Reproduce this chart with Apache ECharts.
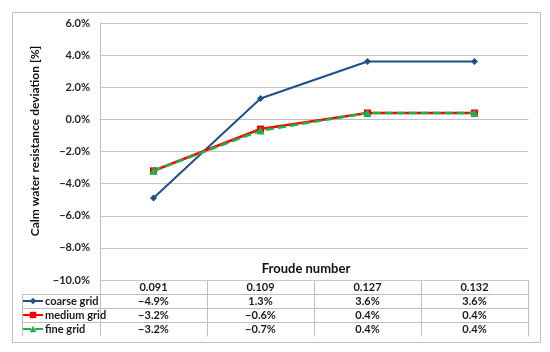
<!DOCTYPE html>
<html><head><meta charset="utf-8">
<script src="https://cdn.jsdelivr.net/npm/echarts@6/dist/echarts.min.js"></script>
<style>html,body{margin:0;padding:0;background:#fff}#c{width:550px;height:352px}</style>
</head><body><div id="c"></div>
<script>
const categories = ['0.091', '0.109', '0.127', '0.132'];
const seriesNames = ['coarse grid', 'medium grid', 'fine grid'];
const coarse = [-4.9, 1.3, 3.6, 3.6];
const medium = [-3.2, -0.6, 0.4, 0.4];
const fine = [-3.2, -0.7, 0.4, 0.4];
const yMin = -10, yMax = 6, yStep = 2;
const xTitle = 'Froude number';
const yTitle = 'Calm water resistance deviation [%]';

const FONT = 'Lato, "Liberation Sans", sans-serif';
const fmt = v => (v < 0 ? '\u2212' : '') + Math.abs(v).toFixed(1) + '%';

const chart = echarts.init(document.getElementById('c'), null, {renderer: 'canvas'});
const G = {left: 100, right: 22, top: 23, bottom: 72};
const colors = ['#1F4E8A', '#FF0000', '#1DB14B'];
const rowTop = 294, rowH = 14;

function legendFor(i) {
  return {
    data: [seriesNames[i]], left: 22, top: rowTop + i * rowH, padding: 0,
    itemWidth: 20, itemHeight: 8, selectedMode: false,
    textStyle: {fontFamily: FONT, fontWeight: 'bold', fontSize: 11, color: '#1a1a1a', lineHeight: 14, padding: [0, 0, 0, -3]}
  };
}

chart.setOption({
  animation: false,
  textStyle: {fontFamily: FONT},
  grid: G,
  legend: [legendFor(0), legendFor(1), legendFor(2)],
  xAxis: {
    type: 'category', data: categories, boundaryGap: true,
    axisLine: {show: true, lineStyle: {color: '#BFBFBF', width: 1}},
    axisTick: {show: false}, axisLabel: {show: false}, splitLine: {show: false}
  },
  yAxis: {
    type: 'value', min: yMin, max: yMax, interval: yStep,
    axisLine: {show: true, lineStyle: {color: '#BFBFBF', width: 1}},
    axisTick: {show: false},
    axisLabel: {formatter: fmt, fontFamily: FONT, fontWeight: 'bold', fontSize: 11, color: '#262626', margin: 10},
    splitLine: {show: true, lineStyle: {color: '#C8C8C8', width: 1}}
  },
  series: [
    {name: seriesNames[0], type: 'line', data: coarse, color: colors[0], symbol: 'diamond', symbolSize: 7,
     lineStyle: {width: 2}, z: 2},
    {name: seriesNames[1], type: 'line', data: medium, color: colors[1], symbol: 'rect', symbolSize: 7,
     lineStyle: {width: 2.5}, z: 3},
    {name: seriesNames[2], type: 'line', data: fine, color: colors[2], symbol: 'triangle', symbolSize: 8,
     lineStyle: {width: 2.5, type: [8, 4]}, z: 4}
  ]
});

// Data table and titles built from the arrays
const W = chart.getWidth(), H = chart.getHeight();
const gl = G.left, gr = W - G.right, gb = H - G.bottom;
const band = (gr - gl) / categories.length;
const gfx = [];
const lineStyle = {stroke: '#BFBFBF', lineWidth: 1};
const P = v => Math.round(v) + 0.5;
gfx.push({type: 'rect', shape: {x: 12.5, y: 12.5, width: 528, height: 330}, style: {fill: 'none', stroke: '#BFBFBF', lineWidth: 1}, z: 0});
for (let r = 1; r <= seriesNames.length; r++) {
  const y = P(gb + r * rowH);
  gfx.push({type: 'line', shape: {x1: 22, y1: y, x2: gr, y2: y}, style: lineStyle});
}
gfx.push({type: 'line', shape: {x1: P(22), y1: P(gb + rowH), x2: P(22), y2: P(gb + 4 * rowH)}, style: lineStyle});
for (let c = 0; c <= categories.length; c++) {
  const x = P(gl + c * band);
  gfx.push({type: 'line', shape: {x1: x, y1: gb, x2: x, y2: P(gb + 4 * rowH)}, style: lineStyle});
}
const allData = [coarse, medium, fine];
categories.forEach((cat, i) => {
  const cx = chart.convertToPixel({xAxisIndex: 0}, cat);
  gfx.push({type: 'text', style: {text: cat, x: cx, y: gb + rowH / 2 + 0.5, align: 'center', verticalAlign: 'middle',
    font: 'bold 11px ' + FONT, fill: '#1a1a1a'}});
  allData.forEach((arr, r) => {
    gfx.push({type: 'text', style: {text: fmt(arr[i]), x: cx, y: gb + (r + 1.5) * rowH + 0.5, align: 'center', verticalAlign: 'middle',
      font: 'bold 11px ' + FONT, fill: '#1a1a1a'}});
  });
});
gfx.push({type: 'text', style: {text: xTitle, x: 306, y: 269, align: 'center', verticalAlign: 'middle', font: 'bold 13px ' + FONT, fill: '#111'}});
gfx.push({type: 'text', rotation: Math.PI / 2, x: 35, y: 141, style: {text: yTitle, x: 0, y: 0, align: 'center', verticalAlign: 'middle', font: 'bold 12px ' + FONT, fill: '#111'}});
chart.setOption({graphic: gfx});
</script>
</body></html>
